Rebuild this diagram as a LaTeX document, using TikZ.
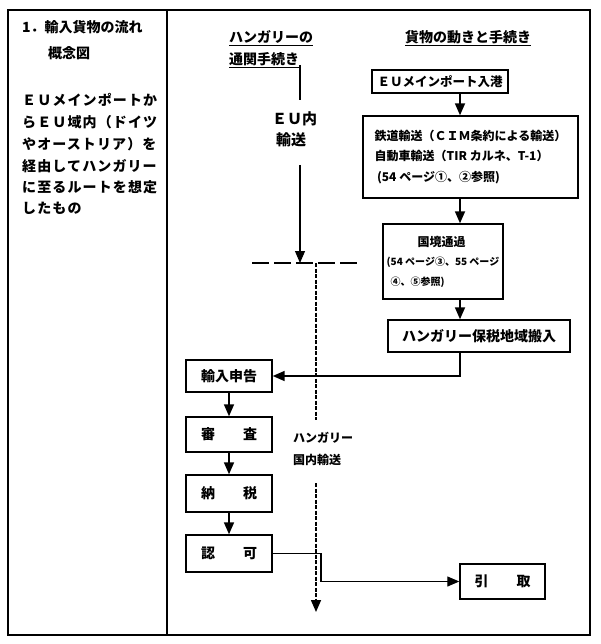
\documentclass[tikz,border=0pt]{standalone}
\usepackage{fontspec}
\setmainfont{Noto Sans CJK JP}
\newfontfamily\spacedfont[LetterSpace=8]{Noto Sans CJK JP}
\usepackage{tikz}
\usetikzlibrary{arrows.meta}
\newcommand{\fsz}[2]{\fontsize{#1}{#2}\selectfont\bfseries}
\tikzset{
	boxstyle/.style={rectangle,draw=black,line width=1.4pt,inner sep=0pt,fill=white,font=\fsz{14}{17}},
	textstyle/.style={inner sep=0pt,anchor=west,font=\fsz{14}{17}},
	tipstyle/.style={-{Triangle[width=10pt,length=12pt]}},
	thickline/.style={line width=1.7pt},
	thinline/.style={line width=1.1pt},
	borderline/.style={line width=2pt,dash pattern=on 17pt off 5pt},
	routeline/.style={line width=1.5pt,dash pattern=on 4pt off 1.5pt}
}

\begin{document}
\begin{tikzpicture}[x=1pt,y=-1pt]
	\useasboundingbox (0,0) rectangle (600,644);
	\draw[line width=1.8pt] (8,10) rectangle (590,635);
	\draw[line width=1.8pt] (167,10) -- (167,635);
	\node[textstyle] (title) at (22,27) {1．輸入貨物の流れ};
	\node[textstyle] (gainen) at (48,53) {概念図};
	\node[textstyle,font=\spacedfont\fsz{14}{17}] (note1) at (22,100) {ＥＵメインポートか};
	\node[textstyle,font=\spacedfont\fsz{14}{17}] (note2) at (22,122) {らＥＵ域内（ドイツ};
	\node[textstyle,font=\spacedfont\fsz{14}{17}] (note3) at (22,144) {やオーストリア）を};
	\node[textstyle,font=\spacedfont\fsz{14}{17}] (note4) at (22,166) {経由してハンガリー};
	\node[textstyle,font=\spacedfont\fsz{14}{17}] (note5) at (22,187) {に至るルートを想定};
	\node[textstyle,font=\spacedfont\fsz{14}{17}] (note6) at (22,208) {したもの};
	\node[textstyle] (head1) at (229,38) {\underline{ハンガリーの}};
	\node[textstyle] (head2) at (229,60) {\underline{通関手続き}};
	\node[textstyle] (head3) at (405,38) {\underline{貨物の動きと手続き}};
	\node[textstyle,font=\fsz{15}{18}] (eunai) at (272,119) {ＥＵ内};
	\node[textstyle,font=\fsz{15}{18}] (euyuso) at (276,140) {輸送};
	\node[textstyle,font=\fsz{12}{15}] (hungary) at (293,438) {ハンガリー};
	\node[textstyle,font=\fsz{12}{15}] (kokunai) at (293,460) {国内輸送};
	\node[boxstyle,minimum width=136pt,minimum height=23pt,font=\fsz{12.5}{15}] (port) at (440,81.5) {ＥＵメインポート入港};
	\node[boxstyle,minimum width=215pt,minimum height=82pt,align=left,font=\fsz{12}{20.5}] (transport) at (470.5,157) {鉄道輸送（ＣＩＭ条約による輸送）\\自動車輸送（TIR カルネ、T-1）\\\hspace*{0.2em}(54 ページ①、②参照)};
	\node[boxstyle,minimum width=120pt,minimum height=75pt,align=left,font=\fsz{10}{19.5}] (border) at (443,261.5) {\hspace*{31pt}{\fsz{12}{19.5}国境通過}\\(54 ページ③、55 ページ\\\hspace*{0.4em}④、⑤参照)};
	\node[boxstyle,minimum width=182pt,minimum height=32pt] (bonded) at (479,336) {ハンガリー保税地域搬入};
	\node[boxstyle,minimum width=86pt,minimum height=32pt] (declare) at (229,376) {輸入申告};
	\node[boxstyle,minimum width=86pt,minimum height=35pt] (examine) at (229,434.5) {審　　査};
	\node[boxstyle,minimum width=86pt,minimum height=37pt] (pay) at (229,493.5) {納　　税};
	\node[boxstyle,minimum width=86pt,minimum height=37pt] (permit) at (229,553.5) {認　　可};
	\node[boxstyle,minimum width=85pt,minimum height=35pt] (pickup) at (502.5,581.5) {引　　取};
	\coordinate (trunk) at (460,0);
	\coordinate (jog) at (321,0);
	\coordinate (eutop) at (300,65);
	\coordinate (eubreak) at (300,100);
	\coordinate (euresume) at (300,165);
	\coordinate (euend) at (300,263);
	\coordinate (lineleft) at (252,263);
	\coordinate (lineright) at (358,263);
	\coordinate (routetop) at (316,263);
	\coordinate (routebreak) at (316,420);
	\coordinate (routeresume) at (316,483);
	\coordinate (routeend) at (316,612);
	\draw[thinline] (eutop) -- (eubreak);
	\draw[thinline,tipstyle] (euresume) -- (euend);
	\draw[borderline] (lineleft) -- (lineright);
	\draw[routeline] (routetop) -- (routebreak);
	\draw[routeline,tipstyle] (routeresume) -- (routeend);
	\draw[thickline,tipstyle] (port.south -| trunk) -- (transport.north -| trunk);
	\draw[thickline,tipstyle] (transport.south -| trunk) -- (border.north -| trunk);
	\draw[thickline,tipstyle] (border.south -| trunk) -- (bonded.north -| trunk);
	\draw[thickline,tipstyle] (bonded.south -| trunk) |- (declare.east);
	\draw[thickline,tipstyle] (declare) -- (examine);
	\draw[thickline,tipstyle] (examine) -- (pay);
	\draw[thickline,tipstyle] (pay) -- (permit);
	\draw[thinline,tipstyle] (permit.east) -| (jog |- pickup.west) -- (pickup.west);
\end{tikzpicture}
\end{document}
